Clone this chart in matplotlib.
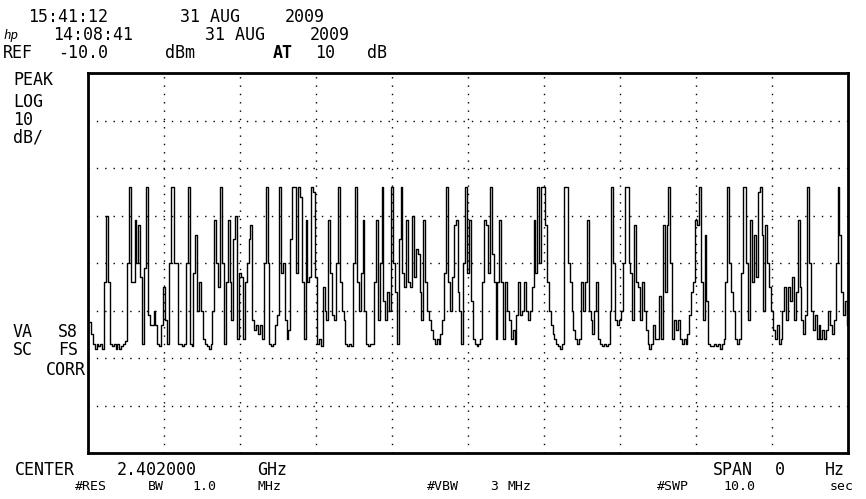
import numpy as np
import matplotlib
matplotlib.use("Agg")
import matplotlib.pyplot as plt

W, H = 866, 499

# zero span sweep, 10 s, 401 trace points
sweep_time = 10.0
ref_level = -10.0
db_per_div = 10
n_div_y = 8
n_div_x = 10

trace_dbm = [
    -62.5, -62.5, -65, -67, -68, -67, -67.5, -67, -68, -54,
    -40, -54, -67, -67.5, -67, -68, -67, -68, -67.5, -67,
    -66.5, -50, -34, -54, -54, -41, -50, -42, -53, -67,
    -51, -34, -61, -63, -63, -60, -63, -67, -67.5, -63,
    -55, -62, -67, -50, -34, -34, -50, -50, -67, -67,
    -67.5, -67, -50, -34, -67, -67.5, -52, -44, -60, -54,
    -60, -66, -67, -67.5, -68, -67, -60, -41, -50, -55,
    -34, -50, -67, -54, -41, -54, -62, -45, -40, -66,
    -52, -53, -66, -54, -50, -45, -42, -62, -64, -63,
    -65, -63, -66, -50, -34, -50, -67, -67.5, -67, -63,
    -61, -34, -52, -50, -62, -66, -64, -45, -34, -34,
    -52, -34, -36, -54, -66, -41, -54, -53, -34, -35,
    -53, -67, -66, -67.5, -55, -60, -62, -41, -52, -61,
    -62, -50, -34, -54, -60, -62, -67, -67.5, -67, -67.5,
    -50, -34, -54, -60, -52, -41, -60, -67, -67.5, -67,
    -67, -54, -41, -62, -50, -34, -58, -62, -56, -60,
    -34, -50, -56, -67, -45, -34, -52, -55, -41, -54,
    -55, -40, -53, -47, -48, -56, -62, -41, -54, -60,
    -62, -64, -66, -67, -66, -67, -65, -62, -52, -34,
    -54, -60, -53, -42, -41, -56, -60, -67, -50, -34,
    -52, -41, -58, -66, -67, -67.5, -67, -66, -54, -41,
    -42, -52, -34, -48, -54, -66, -54, -41, -54, -66,
    -54, -60, -62, -66, -64, -67, -61, -54, -61, -60,
    -54, -60, -62, -60, -55, -41, -52, -34, -50, -34,
    -34, -42, -54, -60, -63, -65, -66, -67, -67.5, -68,
    -67, -34, -34, -50, -54, -60, -64, -66, -67, -66,
    -54, -60, -54, -41, -60, -62, -65, -60, -54, -66,
    -67, -67.5, -67, -67.5, -67, -60, -34, -50, -62, -63,
    -62, -60, -50, -34, -34, -50, -52, -62, -42, -54,
    -55, -62, -54, -60, -64, -67, -68, -67, -63, -66,
    -66, -57, -66, -42, -56, -42, -34, -50, -66, -62,
    -64, -62, -66, -67, -66, -67, -65, -61, -56, -54,
    -41, -42, -34, -54, -62, -44, -58, -67, -67.5, -67.5,
    -67, -67.5, -67, -68, -67, -66, -54, -34, -50, -56,
    -60, -66, -67, -66, -52, -34, -34, -50, -62, -41,
    -54, -44, -53, -35, -34, -44, -60, -42, -50, -55,
    -60, -64, -66, -63, -67, -66, -60, -55, -62, -55,
    -58, -53, -62, -56, -41, -55, -62, -65, -61, -34,
    -50, -60, -64, -61, -66, -63, -66, -64, -66, -64,
    -60, -63, -65, -62, -50, -34, -44, -56, -61, -58,
    -63,
]

fig = plt.figure(figsize=(W / 100, H / 100), dpi=100)
ax = fig.add_axes([88 / W, (H - 453) / H, (848 - 88) / W, (453 - 73) / H])

t = np.linspace(0, sweep_time, len(trace_dbm))
ax.plot(t, trace_dbm, color="black", linewidth=1.0, drawstyle="steps-mid")

bottom = ref_level - n_div_y * db_per_div
ax.set_xlim(0, sweep_time)
ax.set_ylim(bottom, ref_level)
ax.set_xticks(np.linspace(0, sweep_time, n_div_x + 1)[1:-1])
ax.set_yticks(np.arange(bottom + db_per_div, ref_level, db_per_div))
ax.grid(True, color="black", linestyle=(0, (1, 5)), linewidth=1.0)
ax.tick_params(length=0, labelbottom=False, labelleft=False)
for s in ax.spines.values():
    s.set_linewidth(2.0)


def put(x, y, s, size=12, **kw):
    # x, y in screen pixels (y = baseline, counted from the top)
    fig.text(x / W, 1 - y / H, s, family="DejaVu Sans Mono", fontsize=size,
             va="baseline", **kw)


# header, words placed on the screen's character grid
put(28, 22, "15:41:12")
put(180, 22, "31 AUG")
put(285, 22, "2009")
put(3, 39, "hp", size=9, style="italic")
put(53, 40, "14:08:41")
put(205, 40, "31 AUG")
put(310, 40, "2009")
put(3, 58, "REF")
put(58, 58, "-10.0")
put(165, 58, "dBm")
put(273, 58, "AT", fontweight="bold")
put(315, 58, "10")
put(367, 58, "dB")

# left annotations
put(13, 85, "PEAK")
put(13, 107, "LOG")
put(13, 125, "10")
put(13, 143, "dB/")
put(13, 337, "VA")
put(58, 337, "S8")
put(13, 355, "SC")
put(58, 355, "FS")
put(86, 375, "CORR", ha="right")

# footer
put(15, 475, "CENTER")
put(117, 475, "2.402000")
put(257, 475, "GHz")
put(713, 475, "SPAN")
put(775, 475, "0")
put(845, 475, "Hz", ha="right")
put(75, 490, "#RES", size=9.5)
put(148, 490, "BW", size=9.5)
put(192, 490, "1.0", size=9.5)
put(257, 490, "MHz", size=9.5)
put(427, 490, "#VBW", size=9.5)
put(490, 490, "3", size=9.5)
put(508, 490, "MHz", size=9.5)
put(657, 490, "#SWP", size=9.5)
put(723, 490, "10.0", size=9.5)
put(830, 490, "sec", size=9.5)

fig.savefig("out.png", dpi=100, facecolor="white")
